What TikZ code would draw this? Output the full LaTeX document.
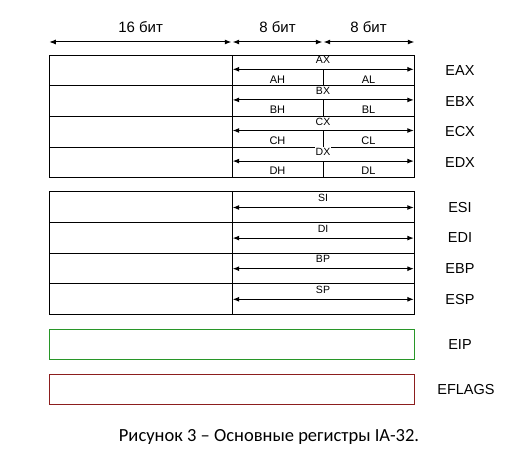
\documentclass[tikz,border=0pt]{standalone}
\usepackage{fontspec}
\setmainfont{Liberation Sans}
\newfontfamily\capfont{Carlito}
\usetikzlibrary{arrows.meta,calc}
\begin{document}
\begin{tikzpicture}[x=1pt,y=-1pt,
  reg/.style={draw, line width=1pt, minimum width=365pt, minimum height=30.6pt, inner sep=0pt, outer sep=0pt, anchor=north west},
  flag/.style={draw, line width=1pt, minimum width=365pt, minimum height=30pt, inner sep=0pt, outer sep=0pt, anchor=north west},
  dim/.style={line width=1pt, {Latex[length=6.5pt,width=5pt]}-{Latex[length=6.5pt,width=5pt]}},
  sub/.style={font=\fontsize{10.5}{11}\selectfont, fill=white, inner sep=1pt},
  half/.style={font=\fontsize{11}{12}\selectfont, inner sep=0pt},
  side/.style={font=\fontsize{14.5}{16}\selectfont},
  toplbl/.style={font=\fontsize{15}{17}\selectfont},
  sep/.style={line width=1pt}]
\useasboundingbox (0,0) rectangle (507,462);
\definecolor{eipgreen}{RGB}{40,150,40}
\definecolor{flagred}{RGB}{140,30,30}

% top dimension arrows
\coordinate (d0) at (49.3,42);
\coordinate (d1) at (232,42);
\coordinate (d2) at (323,42);
\coordinate (d3) at (414.3,42);
\draw[dim] (d0) -- ($(d1)+(-0.7,0)$);
\draw[dim] ($(d1)+(0.7,0)$) -- ($(d2)+(-0.7,0)$);
\draw[dim] ($(d2)+(0.7,0)$) -- (d3);
\node[toplbl] (t16) at (140.6,27) {16 бит};
\node[toplbl] (t8a) at (277.5,27) {8 бит};
\node[toplbl] (t8b) at (368.5,27) {8 бит};

% general purpose registers with halves
\foreach \nm/\top/\w/\h/\l in {eax/55.3/AX/AH/AL, ebx/85.9/BX/BH/BL, ecx/116.5/CX/CH/CL, edx/147.1/DX/DH/DL} {
  \node[reg] (\nm) at (49.3,\top) {};
  \draw[dim] ($(\nm.north west)+(183.4,14)$) -- ($(\nm.north east)+(-0.5,14)$);
  \draw[sep] ($(\nm.north west)+(273.7,14)$) -- ($(\nm.south west)+(273.7,0)$);
  \node[sub] (\nm w) at ($(\nm.north west)+(273.7,5)$) {\w};
  \node[half] (\nm h) at ($(\nm.north west)+(228.2,24)$) {\h};
  \node[half] (\nm l) at ($(\nm.north west)+(319.2,24)$) {\l};
}
\draw[sep] ($(eax.north west)+(182.7,0)$) -- ($(edx.south west)+(182.7,0)$);

% index / pointer registers
\foreach \nm/\top/\w in {esi/192/SI, edi/222.6/DI, ebp/253.2/BP, esp/283.8/SP} {
  \node[reg] (\nm) at (49.3,\top) {};
  \draw[dim] ($(\nm.north west)+(183.4,15.5)$) -- ($(\nm.north east)+(-0.5,15.5)$);
  \node[sub] (\nm w) at ($(\nm.north west)+(273.7,6)$) {\w};
}
\draw[sep] ($(esi.north west)+(182.7,0)$) -- ($(esp.south west)+(182.7,0)$);

% EIP and EFLAGS
\node[flag, draw=eipgreen] (eip) at (49.3,330) {};
\node[flag, draw=flagred] (eflags) at (49.3,375) {};

% side labels
\foreach \nm/\t in {eax/EAX, ebx/EBX, ecx/ECX, edx/EDX, esi/ESI, edi/EDI, ebp/EBP, esp/ESP, eip/EIP} {
  \node[side] (\nm lbl) at (460,0 |- \nm.center) {\t};
}
\node[side] (eflagslbl) at (466,0 |- eflags.center) {EFLAGS};

% caption
\node[font=\capfont\fontsize{18.5}{21}\selectfont] (caption) at (269,437) {Рисунок 3 – Основные регистры IA-32.};
\end{tikzpicture}
\end{document}
